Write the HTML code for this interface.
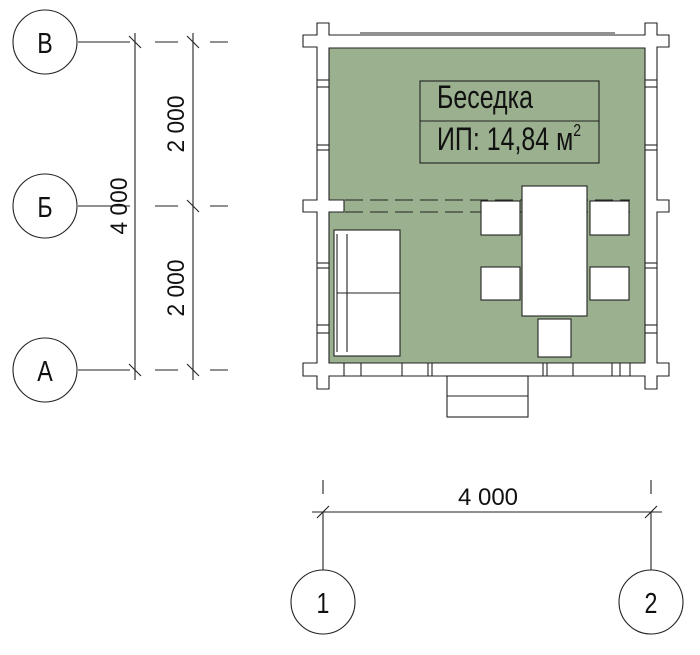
<!DOCTYPE html>
<html><head><meta charset="utf-8"><style>
html,body{margin:0;padding:0;background:#fff;width:700px;height:655px;overflow:hidden}
text{font-family:"Liberation Sans","DejaVu Sans",sans-serif;fill:#111}
</style></head><body>
<svg width="700" height="655" viewBox="0 0 700 655" xmlns="http://www.w3.org/2000/svg">
<g stroke="#222" stroke-width="1.1" fill="none">
<circle cx="45" cy="42" r="32" fill="#fff"/>
<circle cx="45" cy="206" r="32" fill="#fff"/>
<circle cx="45" cy="370" r="32" fill="#fff"/>
<line x1="78" y1="42" x2="130" y2="42"/>
<line x1="78" y1="206" x2="130" y2="206"/>
<line x1="78" y1="370" x2="130" y2="370"/>
<line x1="135" y1="33" x2="135" y2="380"/>
<line x1="193" y1="33" x2="193" y2="380"/>
<line x1="129" y1="36" x2="141" y2="48"/>
<line x1="129" y1="364" x2="141" y2="376"/>
<line x1="187" y1="36" x2="199" y2="48"/>
<line x1="187" y1="200" x2="199" y2="212"/>
<line x1="187" y1="364" x2="199" y2="376"/>
<line x1="155" y1="42" x2="178" y2="42"/><line x1="210" y1="42" x2="228" y2="42"/>
<line x1="155" y1="206" x2="178" y2="206"/><line x1="210" y1="206" x2="228" y2="206"/>
<line x1="155" y1="370" x2="178" y2="370"/><line x1="210" y1="370" x2="228" y2="370"/>
<circle cx="323" cy="602" r="32" fill="#fff"/>
<circle cx="651" cy="602" r="32" fill="#fff"/>
<line x1="323" y1="512" x2="323" y2="570"/>
<line x1="651" y1="512" x2="651" y2="570"/>
<line x1="323" y1="480" x2="323" y2="494"/>
<line x1="651" y1="480" x2="651" y2="494"/>
<line x1="312" y1="512" x2="662" y2="512"/>
<line x1="317" y1="518" x2="329" y2="506"/>
<line x1="645" y1="518" x2="657" y2="506"/>
</g>
<g stroke="#222" stroke-width="1.1">
<path d="M317 23 H329 V35 H645 V23 H657 V35 H669 V47 H657 V200 H669 V212 H657 V363 H669 V376 H657 V389 H645 V376 H329 V389 H317 V376 H303 V363 H317 V212 H303 V200 H317 V47 H303 V35 H317 Z" fill="#fff"/>
<line x1="360" y1="33" x2="615" y2="33"/>
<path d="M329 48 H645 V363 H329 V212 H344 V200 H329 Z" fill="#9bb08f"/>
<g fill="none">
<line x1="317" y1="80" x2="329" y2="80"/><line x1="317" y1="87" x2="329" y2="87"/>
<line x1="317" y1="145" x2="329" y2="145"/><line x1="317" y1="150" x2="329" y2="150"/>
<line x1="317" y1="263" x2="329" y2="263"/><line x1="317" y1="268" x2="329" y2="268"/>
<line x1="317" y1="325" x2="329" y2="325"/><line x1="317" y1="333" x2="329" y2="333"/>
<line x1="645" y1="80" x2="657" y2="80"/><line x1="645" y1="87" x2="657" y2="87"/>
<line x1="645" y1="145" x2="657" y2="145"/><line x1="645" y1="150" x2="657" y2="150"/>
<line x1="645" y1="263" x2="657" y2="263"/><line x1="645" y1="268" x2="657" y2="268"/>
<line x1="645" y1="325" x2="657" y2="325"/><line x1="645" y1="333" x2="657" y2="333"/>
<line x1="344" y1="363" x2="344" y2="376"/><line x1="361" y1="363" x2="361" y2="376"/><line x1="402" y1="363" x2="402" y2="376"/><line x1="428" y1="363" x2="428" y2="376"/><line x1="432" y1="363" x2="432" y2="376"/>
<line x1="543" y1="363" x2="543" y2="376"/><line x1="547" y1="363" x2="547" y2="376"/><line x1="573" y1="363" x2="573" y2="376"/><line x1="612" y1="363" x2="612" y2="376"/><line x1="620" y1="363" x2="620" y2="376"/><line x1="630" y1="363" x2="630" y2="376"/>
<line x1="345" y1="200" x2="630" y2="200" stroke-dasharray="18,7"/>
<line x1="345" y1="212" x2="630" y2="212" stroke-dasharray="18,7"/>
<line x1="432" y1="376" x2="540" y2="376" stroke-dasharray="18,7" stroke="#fff"/>
<line x1="432" y1="376" x2="540" y2="376" stroke-dasharray="18,7"/>
</g>
<rect x="447" y="376" width="81" height="41" fill="#fff"/>
<line x1="447" y1="396" x2="528" y2="396"/>
<rect x="420" y="81" width="179" height="82" fill="none"/>
<line x1="420" y1="121" x2="599" y2="121"/>
<rect x="481" y="201" width="39" height="34" fill="#fff"/>
<rect x="481" y="267" width="39" height="33" fill="#fff"/>
<rect x="590" y="201" width="39" height="34" fill="#fff"/>
<rect x="590" y="267" width="39" height="33" fill="#fff"/>
<rect x="538" y="319" width="33" height="38" fill="#fff"/>
<rect x="522" y="186" width="65" height="130" fill="#fff"/>
<rect x="334" y="230" width="66" height="126" fill="#fff"/>
<line x1="337" y1="234" x2="337" y2="352"/>
<line x1="347" y1="234" x2="347" y2="352"/>
<line x1="337" y1="293" x2="400" y2="293"/>
</g>
<text font-size="32" transform="translate(437 108) scale(0.78 1)">Беседка</text>
<text font-size="32" transform="translate(437 150) scale(0.78 1)">ИП: 14,84 м<tspan font-size="18" dy="-14">2</tspan></text>
<g font-size="29" text-anchor="middle">
<text transform="translate(45 53) scale(0.8 1)">В</text>
<text transform="translate(45 217) scale(0.8 1)">Б</text>
<text transform="translate(45 381) scale(0.8 1)">А</text>
<text transform="translate(323 613) scale(0.8 1)">1</text>
<text transform="translate(651 613) scale(0.8 1)">2</text>
</g>
<g font-size="24" text-anchor="middle">
<text transform="translate(488 505)">4 000</text>
<text transform="translate(184 124) rotate(-90) scale(0.95 1)">2 000</text>
<text transform="translate(184 288) rotate(-90) scale(0.95 1)">2 000</text>
<text transform="translate(127 206) rotate(-90) scale(0.95 1)">4 000</text>
</g>
</svg>
</body></html>
